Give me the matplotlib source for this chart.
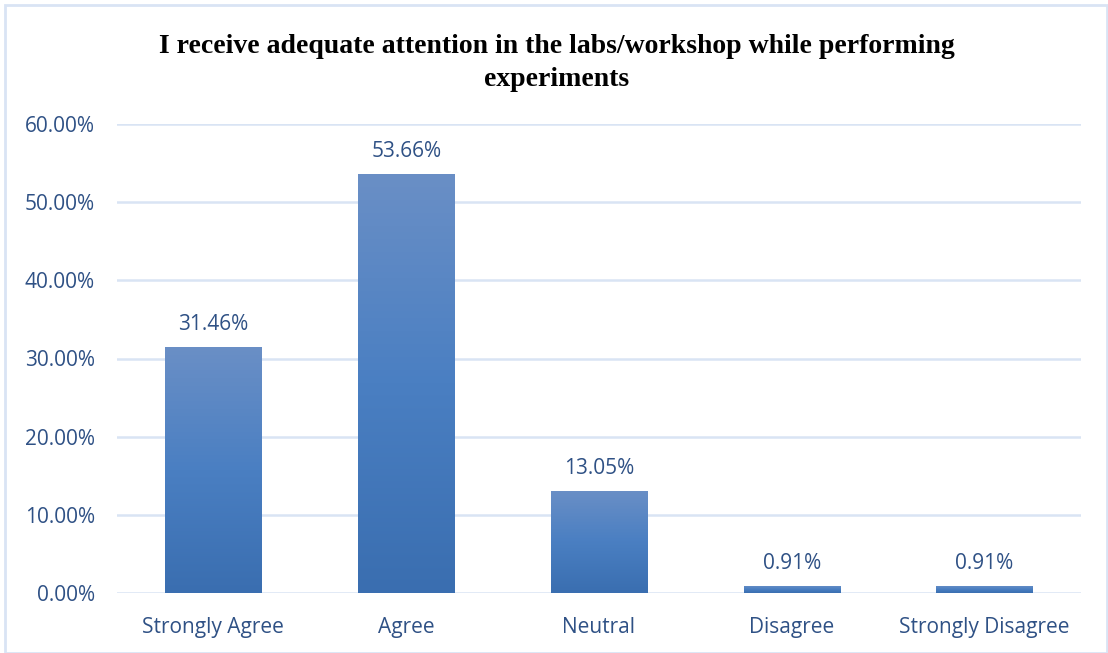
import numpy as np
import matplotlib
matplotlib.use("Agg")
from matplotlib import pyplot as plt
from matplotlib.colors import LinearSegmentedColormap
from matplotlib.patches import Rectangle

categories = ['Strongly Agree', 'Agree', 'Neutral', 'Disagree', 'Strongly Disagree']
percentages = [31.46, 53.66, 13.05, 0.91, 0.91]
y_ticks = [0, 10, 20, 30, 40, 50, 60]
title = 'I receive adequate attention in the labs/workshop while performing\nexperiments'

TEXT_BLUE = '#2f5185'
GRID_BLUE = '#d9e4f4'
LABEL_SIZE = 15

fig = plt.figure(figsize=(11.08, 6.53), dpi=100)
ax = fig.add_axes([117 / 1108, 1 - 593 / 653, (1081 - 117) / 1108, (593 - 124) / 653])

x = np.arange(len(categories))
bars = ax.bar(x, percentages, width=0.5, color='none', edgecolor='none', zorder=3)

# vertical gradient: lighter at top, darker at bottom
cmap = LinearSegmentedColormap.from_list('bar_grad', ['#3a6eb0', '#4a7fc2', '#6a8fc6'])
grad = np.linspace(0, 1, 256).reshape(-1, 1)
for bar in bars:
    bx, by = bar.get_x(), bar.get_y()
    bw, bh = bar.get_width(), bar.get_height()
    img = ax.imshow(grad, cmap=cmap, aspect='auto', origin='lower',
                    extent=(bx, bx + bw, by, by + bh), zorder=3)
    img.set_clip_path(bar)

for xi, val in zip(x, percentages):
    ax.text(xi, val + 1.5, f'{val:.2f}%', ha='center', va='bottom',
            fontsize=LABEL_SIZE, color=TEXT_BLUE, family='Open Sans')

ax.set_xlim(-0.5, len(categories) - 0.5)
ax.set_ylim(0, 60)
ax.set_yticks(y_ticks)
ax.set_yticklabels([f'{t:.2f}%' for t in y_ticks])
ax.set_xticks(x)
ax.set_xticklabels(categories)
ax.tick_params(axis='both', length=0, labelsize=LABEL_SIZE, labelcolor=TEXT_BLUE)
ax.tick_params(axis='y', pad=16)
ax.tick_params(axis='x', pad=17)
for lbl in ax.get_xticklabels() + ax.get_yticklabels():
    lbl.set_family('Open Sans')

ax.grid(axis='y', color=GRID_BLUE, linewidth=1.8, zorder=0)
ax.set_axisbelow(True)
for spine in ax.spines.values():
    spine.set_visible(False)

fig.text(557 / 1108, 1 - 63 / 653, title, ha='center', va='center',
         fontsize=20, fontweight='bold', family='Liberation Serif',
         linespacing=1.4)

# outer chart border
fig.patches.append(Rectangle((5 / 1108, 0), 1 - 6 / 1108, 1 - 5 / 653,
                             transform=fig.transFigure, fill=False,
                             edgecolor=GRID_BLUE, linewidth=2))

fig.savefig('out.png', dpi=100)
